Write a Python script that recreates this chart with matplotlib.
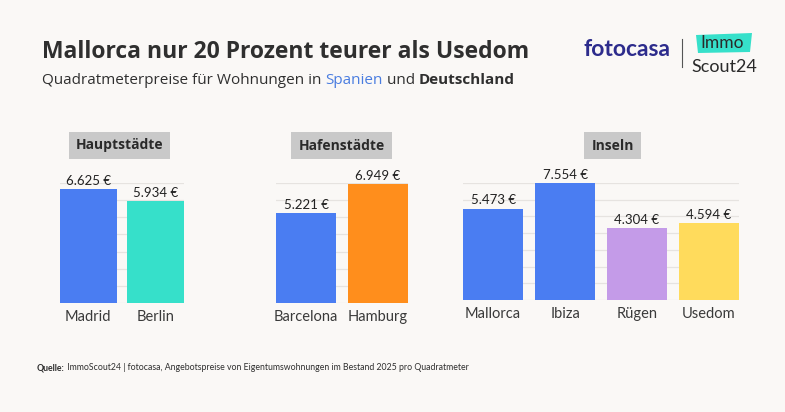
import matplotlib.pyplot as plt
from matplotlib.patches import Polygon
import matplotlib.lines as mlines

# ======================
# DATA
# ======================
groups = ["Hauptstädte", "Hafenstädte", "Inseln"]

haupt_cities = ["Madrid", "Berlin"]
haupt_values = [6625, 5934]

hafen_cities = ["Barcelona", "Hamburg"]
hafen_values = [5221, 6949]

insel_cities = ["Mallorca", "Ibiza", "Rügen", "Usedom"]
insel_values = [5473, 7554, 4304, 4594]

y_max = 7000
grid_ticks = list(range(0, 8000, 1000))

# ======================
# STYLE
# ======================
BG = "#FAF8F6"
DARK = "#2F2F2F"
BLUE = "#4A7DF2"
TEAL = "#36E0CA"
ORANGE = "#FF8E1C"
LILAC = "#C49BE8"
YELLOW = "#FFDB5C"
GRID = "#E6E3E0"

haupt_colors = [BLUE, TEAL]
hafen_colors = [BLUE, ORANGE]
insel_colors = [BLUE, BLUE, LILAC, YELLOW]

plt.rcParams["font.family"] = ["Lato", "DejaVu Sans"]

W, H = 785, 412
fig = plt.figure(figsize=(W / 100, H / 100), dpi=100, facecolor=BG)


def px_axes(left, top, right, bottom):
    return fig.add_axes([left / W, 1 - bottom / H, (right - left) / W, (bottom - top) / H])


def fx(x):
    return x / W


def fy(y):
    return 1 - y / H


def euro(v):
    return f"{v:,}".replace(",", ".") + " €"


def draw_panel(ax, cities, values, colors):
    ax.set_facecolor("none")
    x = range(len(cities))
    ax.bar(x, values, width=0.84, color=colors, zorder=2)
    ax.set_xlim(-0.42, len(cities) - 1 + 0.42)
    ax.set_ylim(0, y_max)
    ax.set_yticks(grid_ticks)
    ax.set_yticklabels([])
    ax.grid(axis="y", color=GRID, linewidth=0.9, zorder=0)
    ax.set_xticks(list(x))
    ax.set_xticklabels(cities, fontsize=10.5, color="#3A3A3A")
    ax.tick_params(length=0, pad=5)
    for s in ax.spines.values():
        s.set_visible(False)
    for xi, v in zip(x, values):
        ax.annotate(euro(v), (xi, min(v, y_max)), xytext=(0, 1.5), textcoords="offset points",
                    ha="center", va="bottom", fontsize=9.5, color="#222222", annotation_clip=False)


# ======================
# PANELS
# ======================
ax1 = px_axes(60, 183, 184, 303)
draw_panel(ax1, haupt_cities, haupt_values, haupt_colors)

ax2 = px_axes(276, 183, 408, 303)
draw_panel(ax2, hafen_cities, hafen_values, hafen_colors)

ax3 = px_axes(463, 183, 739, 300)
draw_panel(ax3, insel_cities, insel_values, insel_colors)

# group title boxes
box_centers = [119.5, 341.5, 612.5]
for name, cx in zip(groups, box_centers):
    fig.text(fx(cx), fy(145.5), name, ha="center", va="center", fontsize=10,
             fontweight="bold", color="#2A2A2A", family=["Open Sans", "DejaVu Sans"],
             bbox=dict(boxstyle="square,pad=0.5", facecolor="#C9C9C9", edgecolor="none"))

# ======================
# TITLES
# ======================
fig.text(fx(42), fy(52), "Mallorca nur 20 Prozent teurer als Usedom", ha="left", va="center",
         fontsize=16.5, fontweight="bold", color=DARK, family=["Open Sans", "DejaVu Sans"])

sub_y = fy(80)
t1 = fig.text(fx(42), sub_y, "Quadratmeterpreise für Wohnungen in ", ha="left", va="center",
              fontsize=11, color=DARK, family=["Open Sans", "DejaVu Sans"])
fig.canvas.draw()
r = fig.canvas.get_renderer()
bb = t1.get_window_extent(r)
t2 = fig.text(bb.x1 / W, sub_y, "Spanien", ha="left", va="center", fontsize=11,
              color="#4A7DE0", family=["Open Sans", "DejaVu Sans"])
bb = t2.get_window_extent(r)
t3 = fig.text(bb.x1 / W, sub_y, " und ", ha="left", va="center", fontsize=11,
              color=DARK, family=["Open Sans", "DejaVu Sans"])
bb = t3.get_window_extent(r)
fig.text(bb.x1 / W, sub_y, "Deutschland", ha="left", va="center", fontsize=11,
         fontweight="bold", color=DARK, family=["Open Sans", "DejaVu Sans"])

# ======================
# LOGOS
# ======================
fig.text(fx(584), fy(50), "fotocasa", ha="left", va="center", fontsize=16.5,
         fontweight="bold", color="#2D2C8C", family=["Lato", "DejaVu Sans"])
fig.add_artist(mlines.Line2D([fx(682), fx(682)], [fy(39), fy(67)], color="#555555", lw=0.8))
fig.add_artist(Polygon([[fx(696), fy(35)], [fx(752), fy(33)], [fx(750), fy(52)], [fx(698), fy(53)]],
                       closed=True, facecolor=TEAL, edgecolor="none"))
fig.text(fx(722), fy(43), "Immo", ha="center", va="center", fontsize=12.5,
         color="#2A2A2A", family=["Lato", "DejaVu Sans"])
fig.text(fx(691), fy(67), "Scout24", ha="left", va="center", fontsize=13,
         color="#2A2A2A", family=["Lato", "DejaVu Sans"])

# ======================
# SOURCE
# ======================
src_y = fy(368)
s1 = fig.text(fx(37), src_y, "Quelle:", ha="left", va="center", fontsize=6.35,
              fontweight="bold", color=DARK, family=["Lato", "DejaVu Sans"])
bb = s1.get_window_extent(r)
fig.text(bb.x1 / W, src_y, " ImmoScout24 | fotocasa, Angebotspreise von Eigentumswohnungen im Bestand 2025 pro Quadratmeter",
         ha="left", va="center", fontsize=6.35, color=DARK, family=["Lato", "DejaVu Sans"])

fig.savefig("out.png", dpi=100, facecolor=BG)
